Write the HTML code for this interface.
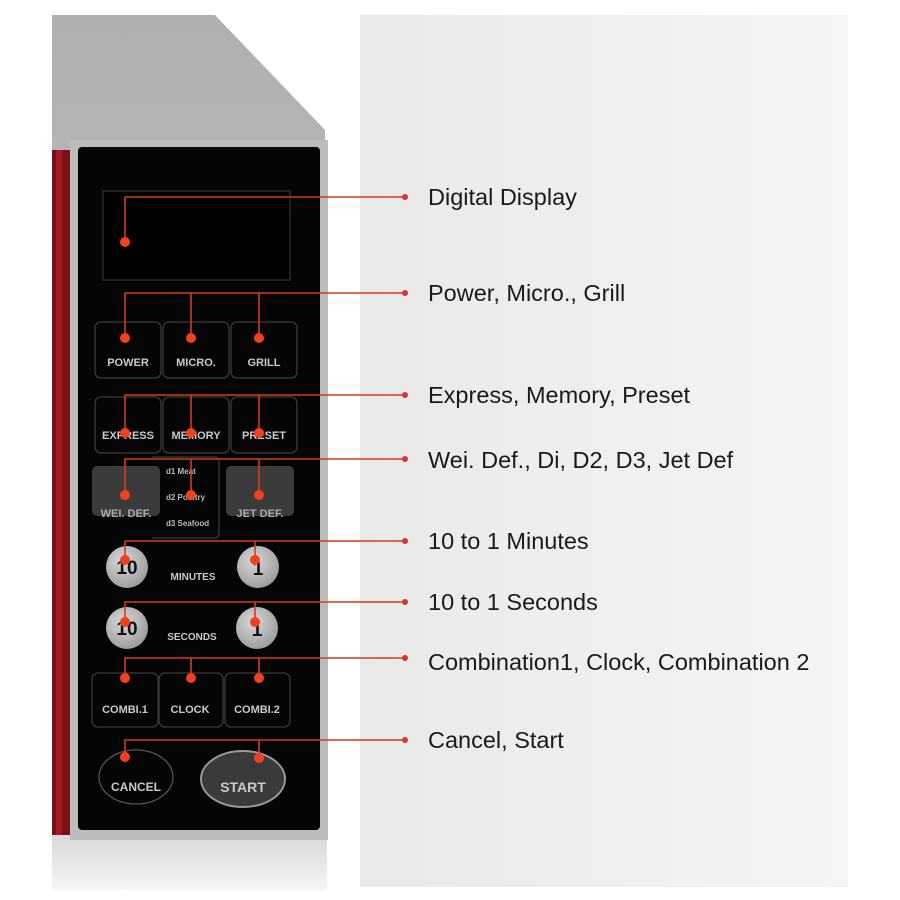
<!DOCTYPE html>
<html><head><meta charset="utf-8"><style>
html,body{margin:0;padding:0;background:#fff;}
svg{display:block}
</style></head><body>
<svg width="900" height="900" viewBox="0 0 900 900" xmlns="http://www.w3.org/2000/svg" font-family="Liberation Sans, sans-serif">
<defs>
<linearGradient id="bg" x1="0" x2="1" y1="0" y2="0"><stop offset="0" stop-color="#e9e9e9"/><stop offset="1" stop-color="#f5f5f5"/></linearGradient>
<linearGradient id="body" x1="0" x2="0" y1="0" y2="1"><stop offset="0" stop-color="#b0b0b0"/><stop offset="1" stop-color="#c8c8c8"/></linearGradient>
<linearGradient id="refl" x1="0" x2="0" y1="0" y2="1"><stop offset="0" stop-color="#d8d8d8"/><stop offset="1" stop-color="#f6f6f6"/></linearGradient>
<radialGradient id="btn" cx="0.4" cy="0.35" r="0.7"><stop offset="0" stop-color="#d8d8d8"/><stop offset="1" stop-color="#9a9a9a"/></radialGradient>
</defs>
<rect x="360" y="15" width="488" height="872" fill="url(#bg)"/>
<polygon points="52,15 215,15 325,130 328,835 52,835" fill="url(#body)"/>
<rect x="52" y="835" width="275" height="55" fill="url(#refl)"/>
<rect x="52" y="150" width="18" height="685" fill="#7a1016"/>
<rect x="56" y="150" width="6" height="685" fill="#a31a20"/>
<rect x="70" y="140" width="258" height="700" fill="#bcbcbc"/>
<rect x="78" y="147" width="242" height="683" rx="4" fill="#050505"/>
<rect x="103" y="191" width="187" height="89" fill="#000" stroke="#2a2a2a" stroke-width="1.5"/>
<g fill="none" stroke="#3a3a3a" stroke-width="1.3">
<rect x="95" y="322" width="66" height="56" rx="6"/><rect x="163" y="322" width="66" height="56" rx="6"/><rect x="231" y="322" width="66" height="56" rx="6"/>
<rect x="95" y="397" width="66" height="56" rx="6"/><rect x="163" y="397" width="66" height="56" rx="6"/><rect x="231" y="397" width="66" height="56" rx="6"/>
<path d="M152 457 H214 Q219 457 219 462 V533 Q219 538 214 538 H152"/>
<rect x="92" y="673" width="66" height="54" rx="6"/><rect x="159" y="673" width="64" height="54" rx="6"/><rect x="225" y="673" width="65" height="54" rx="6"/>
<ellipse cx="136" cy="777" rx="37" ry="27" stroke="#555"/>
</g>
<rect x="92" y="466" width="68" height="50" rx="5" fill="#3b3b3b"/>
<rect x="226" y="466" width="68" height="50" rx="5" fill="#3b3b3b"/>
<ellipse cx="243" cy="779" rx="42" ry="28" fill="#3a3a3a" stroke="#9a9a9a" stroke-width="2"/>
<g fill="url(#btn)">
<circle cx="127" cy="567" r="21"/><circle cx="258" cy="567" r="21"/>
<circle cx="127" cy="628" r="21"/><circle cx="257" cy="628" r="21"/>
</g>
<g fill="#111" font-weight="bold" font-size="19" text-anchor="middle">
<text x="127" y="574">10</text><text x="258" y="575">1</text>
<text x="127" y="635">10</text><text x="257" y="636">1</text>
</g>
<g fill="#c9c9c9" font-size="11" font-weight="bold" text-anchor="middle">
<text x="128" y="366">POWER</text><text x="196" y="366">MICRO.</text><text x="264" y="366">GRILL</text>
<text x="128" y="439">EXPRESS</text><text x="196" y="439">MEMORY</text><text x="264" y="439">PRESET</text>
<text x="126" y="517" fill="#aaa">WEI. DEF.</text><text x="260" y="517" fill="#aaa">JET DEF.</text>
<text x="193" y="580" font-size="10">MINUTES</text><text x="192" y="640" font-size="10">SECONDS</text>
<text x="125" y="713">COMBI.1</text><text x="190" y="713">CLOCK</text><text x="257" y="713">COMBI.2</text>
<text x="136" y="791" font-size="12">CANCEL</text><text x="243" y="792" font-size="14">START</text>
</g>
<g fill="#bbb" font-size="8" font-weight="bold">
<text x="166" y="474">d1 Meat</text><text x="166" y="500">d2 Poultry</text><text x="166" y="526">d3 Seafood</text>
</g>
<g stroke="#d43a22" stroke-width="1.6" fill="none">
<path d="M125 242 V197 H405"/>
<path d="M125 338 V293 H405 M191 293 V338 M259 293 V338"/>
<path d="M125 433 V395 H405 M191 395 V433 M259 395 V433"/>
<path d="M125 495 V459 H405 M191 459 V495 M259 459 V495"/>
<path d="M125 560 V541 H405 M255 541 V560"/>
<path d="M125 622 V602 H405 M255 602 V622"/>
<path d="M125 678 V658 H405 M191 658 V678 M259 658 V678"/>
<path d="M125 757 V740 H405 M259 740 V758"/>
</g>
<g fill="#f2401f">
<circle cx="125" cy="242" r="5"/>
<circle cx="125" cy="338" r="5"/><circle cx="191" cy="338" r="5"/><circle cx="259" cy="338" r="5"/>
<circle cx="125" cy="433" r="5"/><circle cx="191" cy="433" r="5"/><circle cx="259" cy="433" r="5"/>
<circle cx="125" cy="495" r="5"/><circle cx="191" cy="495" r="5"/><circle cx="259" cy="495" r="5"/>
<circle cx="125" cy="560" r="5"/><circle cx="255" cy="560" r="5"/>
<circle cx="125" cy="622" r="5"/><circle cx="255" cy="622" r="5"/>
<circle cx="125" cy="678" r="5"/><circle cx="191" cy="678" r="5"/><circle cx="259" cy="678" r="5"/>
<circle cx="125" cy="757" r="5"/><circle cx="259" cy="758" r="5"/>
<g fill="#d43a22"><circle cx="405" cy="197" r="3"/><circle cx="405" cy="293" r="3"/><circle cx="405" cy="395" r="3"/><circle cx="405" cy="459" r="3"/><circle cx="405" cy="541" r="3"/><circle cx="405" cy="602" r="3"/><circle cx="405" cy="658" r="3"/><circle cx="405" cy="740" r="3"/></g>
</g>
<g fill="#1a1a1a" font-size="23.5">
<text x="428" y="205">Digital Display</text>
<text x="428" y="301">Power, Micro., Grill</text>
<text x="428" y="403">Express, Memory, Preset</text>
<text x="428" y="468">Wei. Def., Di, D2, D3, Jet Def</text>
<text x="428" y="549">10 to 1 Minutes</text>
<text x="428" y="610">10 to 1 Seconds</text>
<text x="428" y="670">Combination1, Clock, Combination 2</text>
<text x="428" y="748">Cancel, Start</text>
</g>
</svg>
</body></html>
